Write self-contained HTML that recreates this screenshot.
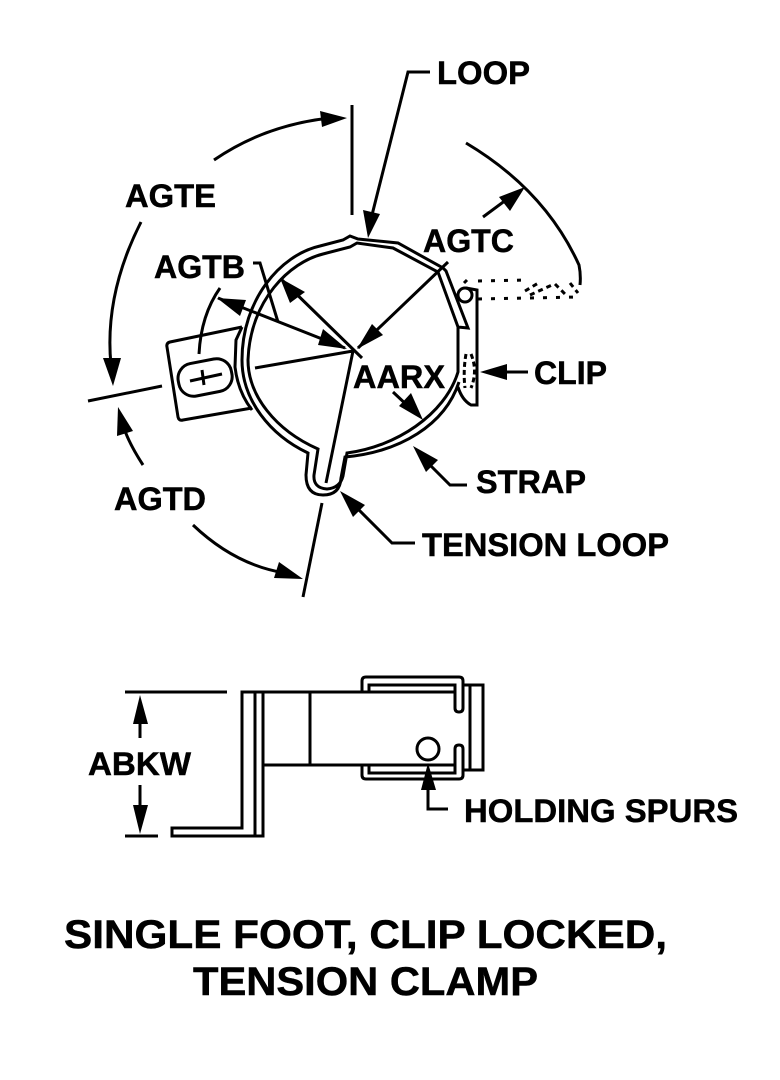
<!DOCTYPE html>
<html><head><meta charset="utf-8"><style>
html,body{margin:0;padding:0;background:#fff}
svg{display:block}
text{font-family:"Liberation Sans",sans-serif;font-weight:bold;font-size:32.5px;fill:#000;stroke:#000;stroke-width:.5}
.t{font-size:40px}
path,line,circle,rect{fill:none;stroke:#000;stroke-width:3}
.h{fill:#000;stroke:none}
</style></head><body>
<svg width="780" height="1080" viewBox="0 0 780 1080" xmlns="http://www.w3.org/2000/svg">
<!-- strap -->
<path d="M458,327 L438,272 L393,248 L357,243 L350,247 L323,254 C290,262 250,300 248,360 C248,395 275,430 318,449 L314,475 Q313,488 327,489 Q340,488 343,476 L347,453 C395,447 445,415 458,372 L458,327 L468,328 L446,271 L443,268 L398,243 L358,239 L350,236 L343,240 L320,246 C280,255 242,300 242,360 C242,400 270,435 308,453 L306,475 Q306,495 323,495 Q340,495 341,478 L345,457 C400,452 445,425 459,382"/>
<!-- plate -->
<path d="M242,327 L170,342 Q166,343 167,347 L178,417 Q179,421 183,420 L252,408"/>
<path d="M242,327 L236,340 L235,367 Q238,392 252,410"/>
<rect x="178" y="361" width="54" height="33" rx="15" transform="rotate(-11 205 377)"/>
<path d="M190,381 L222,374 M202,370 L204,385" stroke-width="2.4"/>
<path d="M199,354 Q201,315 220,288"/>
<!-- clip -->
<path d="M466,288 L477,290 L477,405 L471,405 Q462,400 458,387"/>
<circle cx="465" cy="295" r="7"/>
<path d="M464,283 L467,280"/>
<path d="M466,354 Q463,371 465,388 M471,354 Q478,371 471,388" stroke-dasharray="5 3"/>
<path d="M478,281 L530,280 M478,299 L578,297" stroke-dasharray="4 9" stroke-width="3.5"/>
<path d="M525,291 L540,282 M530,295 L552,285 M555,284 L565,294 M570,283 L578,293" stroke-dasharray="5 4" stroke-width="4"/>
<!-- centre lines -->
<path d="M255,368 L353,351 L326,483"/>
<path d="M281,279 L362,358"/>
<path d="M218,298 L345,348"/>
<path d="M253,263 L260,263 L278,322"/>
<path d="M448,262 L358,348"/>
<polygon class="h" points="280,278 305,292 290,303"/>
<polygon class="h" points="217,298 246,300 240,316"/>
<polygon class="h" points="347,349 318,345 323,329"/>
<polygon class="h" points="357,349 372,324 383,335"/>
<!-- LOOP -->
<path d="M430,72 L408,72 L372,215"/>
<polygon class="h" points="368,238 363,210 380,214"/>
<!-- AGTE / AGTD etc. -->
<path d="M352,105 L352,215"/>
<path d="M88,401 L162,386"/>
<path d="M322,503 L303,597"/>
<path d="M214,160 Q265,125 330,118"/>
<polygon class="h" points="347,118 320,111 322,127"/>
<path d="M141,222 Q104,295 111,365"/>
<polygon class="h" points="113,386 103,358 121,358"/>
<path d="M143,465 Q128,442 123,425"/>
<polygon class="h" points="118,407 133,431 117,436"/>
<path d="M193,525 Q235,565 285,573"/>
<polygon class="h" points="303,579 274,578 279,562"/>
<!-- AGTC outer arc -->
<path d="M466,143 Q545,190 579,265 Q581,275 580,285" stroke-width="3.5"/>
<path d="M483,217 L510,197"/>
<polygon class="h" points="525,187 510,211 499,197"/>
<!-- CLIP, STRAP, TENSION, AARX arrows -->
<path d="M528,372 L500,372"/>
<polygon class="h" points="480,372 507,364 507,380"/>
<path d="M467,485 L450,485 L425,460"/>
<polygon class="h" points="413,446 438,460 426,472"/>
<path d="M415,543 L392,543 L352,503"/>
<polygon class="h" points="340,491 365,505 353,517"/>
<path d="M393,392 L410,408"/>
<polygon class="h" points="423,420 399,406 411,393"/>
<!-- lower view -->
<path d="M125,692 L227,692 M125,836 L158,836"/>
<path d="M140,715 L140,738 M140,785 L140,810"/>
<polygon class="h" points="140,695 133,724 148,724"/>
<polygon class="h" points="140,834 133,805 148,805"/>
<path d="M455,692 L242,692 L242,828 L172,828 L172,836 L263,836 L263,692 M255,692 L255,836 M263,765 L455,765 M310,692 L310,765"/>
<path d="M362,692 L362,681 Q362,677 366,677 L459,677 Q463,677 463,681 L463,708 Q463,712 459,712 Q455,712 455,708 L455,685 L369,685 L369,692 M362,765 L362,775 Q362,779 366,779 L459,779 Q463,779 463,775 L463,749 Q463,745 459,745 Q455,745 455,749 L455,773 L369,773 L369,765"/>
<path d="M463,685 L483,685 L483,770 L463,770 M470,685 L470,770"/>
<circle cx="428" cy="749" r="11"/>
<polygon class="h" points="428,763 421,790 436,790"/>
<path d="M428,785 L428,809 L448,809"/>
<!-- labels -->
<text x="437" y="84" textLength="93" lengthAdjust="spacingAndGlyphs">LOOP</text>
<text x="125" y="207" textLength="91" lengthAdjust="spacingAndGlyphs">AGTE</text>
<text x="423" y="252" textLength="91" lengthAdjust="spacingAndGlyphs">AGTC</text>
<text x="154" y="278" textLength="91" lengthAdjust="spacingAndGlyphs">AGTB</text>
<text x="353" y="388" textLength="92" lengthAdjust="spacingAndGlyphs">AARX</text>
<text x="534" y="384" textLength="73" lengthAdjust="spacingAndGlyphs">CLIP</text>
<text x="476" y="493" textLength="110" lengthAdjust="spacingAndGlyphs">STRAP</text>
<text x="114" y="510" textLength="92" lengthAdjust="spacingAndGlyphs">AGTD</text>
<text x="422" y="556" textLength="247" lengthAdjust="spacingAndGlyphs">TENSION LOOP</text>
<text x="88" y="775" textLength="103" lengthAdjust="spacingAndGlyphs">ABKW</text>
<text x="464" y="822" textLength="274" lengthAdjust="spacingAndGlyphs">HOLDING SPURS</text>
<text class="t" x="64" y="948" textLength="603" lengthAdjust="spacingAndGlyphs">SINGLE FOOT, CLIP LOCKED,</text>
<text class="t" x="193" y="995" textLength="345" lengthAdjust="spacingAndGlyphs">TENSION CLAMP</text>
</svg>
</body></html>
